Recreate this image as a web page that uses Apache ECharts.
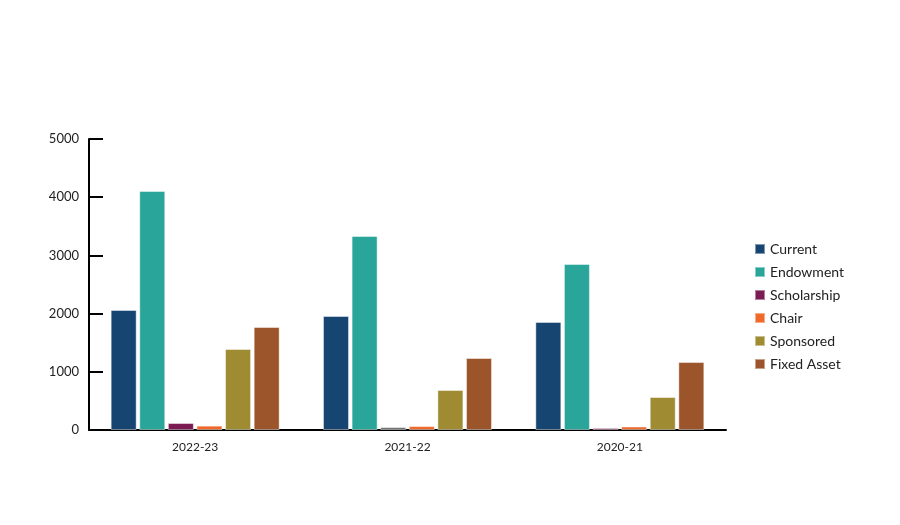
<!DOCTYPE html>
<html><head><meta charset="utf-8">
<script src="https://cdn.jsdelivr.net/npm/echarts@6/dist/echarts.min.js"></script>
<style>html,body{margin:0;padding:0;background:#fff}#c{width:900px;height:525px}</style>
</head><body><div id="c"></div>
<script>
const categories = ['2022-23', '2021-22', '2020-21'];
const seriesNames = ['Current', 'Endowment', 'Scholarship', 'Chair', 'Sponsored', 'Fixed Asset'];
const current = [2062, 1959, 1856];
const endowment = [4107, 3333, 2852];
const scholarship = [120, 50, 35];
const chair = [75, 68, 60];
const sponsored = [1392, 687, 567];
const fixedAsset = [1770, 1237, 1168];
const yTicks = [0, 1000, 2000, 3000, 4000, 5000];
const colors = ['#154570', '#2aa59a', '#7b1a53', '#f0692a', '#9e8b32', '#9c542b'];
const values = [current, endowment, scholarship, chair, sponsored, fixedAsset];

const chart = echarts.init(document.getElementById('c'));
const font = 'Lato, "Open Sans", sans-serif';
chart.setOption({
  animation: false,
  color: colors,
  grid: {left: 89, right: 174, top: 139, bottom: 95},
  legend: {
    orient: 'vertical', left: 754, top: 242, padding: 0, itemWidth: 10, itemHeight: 10, itemGap: 9,
    icon: 'rect',
    textStyle: {fontFamily: font, fontSize: 14, color: '#222'},
    data: seriesNames
  },
  xAxis: {
    type: 'category', data: categories,
    axisLine: {lineStyle: {color: '#000', width: 2}},
    axisTick: {inside: true, length: 8, lineStyle: {color: '#000', width: 2}},
    axisLabel: {fontFamily: font, fontSize: 12, color: '#222', margin: 11}
  },
  yAxis: {
    type: 'value', min: 0, max: 5000, interval: 1000,
    axisLine: {show: true, lineStyle: {color: '#000', width: 2}},
    axisTick: {show: true, inside: true, length: 14, lineStyle: {color: '#000', width: 2}},
    splitLine: {show: false},
    axisLabel: {fontFamily: font, fontSize: 13, color: '#222', margin: 10,
      formatter: v => yTicks.includes(v) ? String(v) : ''}
  },
  series: seriesNames.map((n, i) => ({
    name: n, type: 'bar', barWidth: 26, barGap: '10%',
    itemStyle: {borderColor: 'rgba(255,255,255,0.45)', borderWidth: 1},
    data: values[i].map((v, j) => (i === 2 && j === 1) ? {value: v, itemStyle: {color: '#6e6e6e'}} : v)
  }))
});
</script></body></html>
